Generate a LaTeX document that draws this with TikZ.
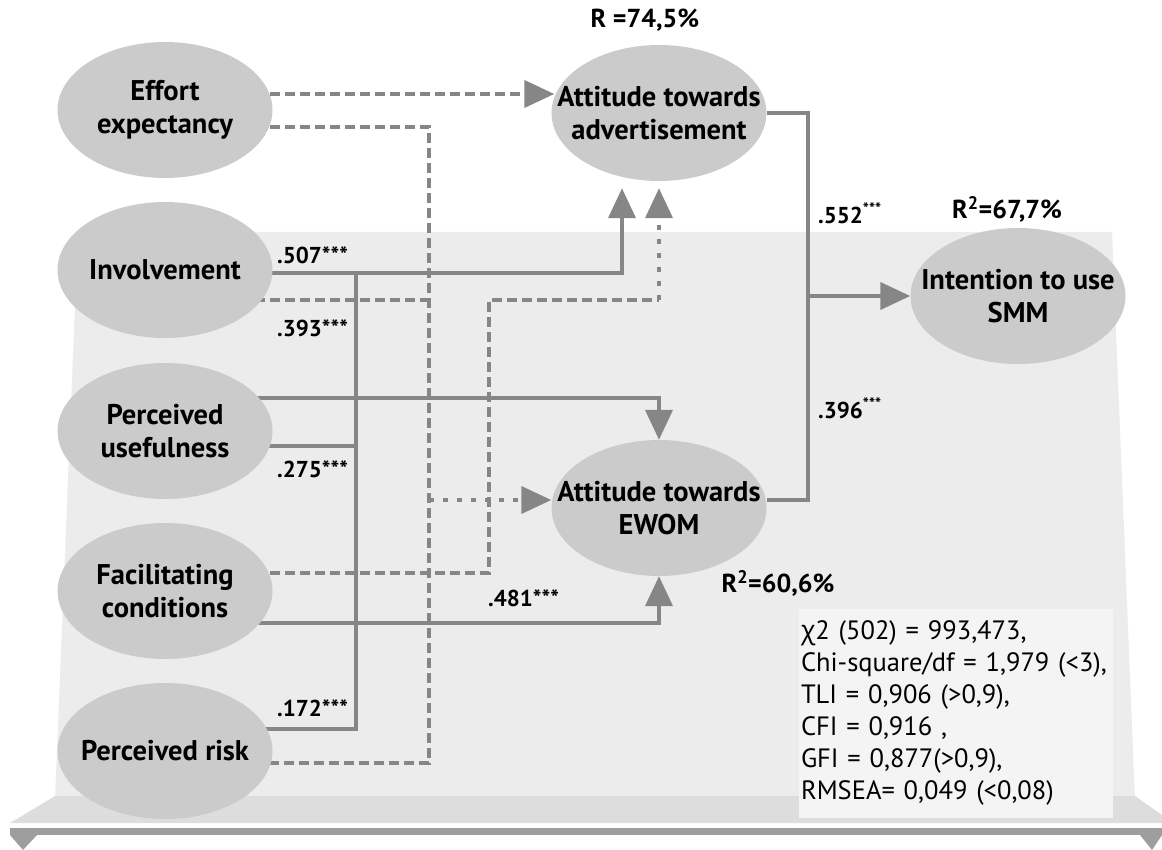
\documentclass[tikz,border=0pt]{standalone}
\usepackage{fontspec}
\setmainfont{PT Sans}
\newfontfamily\greekfont{Open Sans}
\usetikzlibrary{shapes.geometric,arrows.meta}

\definecolor{ovalgray}{HTML}{CBCBCB}
\definecolor{linegray}{HTML}{868686}
\definecolor{panelgray}{HTML}{EBECEB}
\definecolor{shelfgray}{HTML}{DCDDDC}
\definecolor{bargray}{HTML}{9E9E9E}
\definecolor{boxgray}{HTML}{F4F4F4}

\pgfdeclarelayer{panel}
\pgfdeclarelayer{paths}
\pgfsetlayers{panel,paths,main}

\tikzset{construct/.style={ellipse,fill=ovalgray,minimum width=215pt,minimum height=136pt,inner xsep=-60pt,inner ysep=-20pt,align=center,font=\fontsize{28.5}{33}\selectfont\bfseries}}
\tikzset{coef/.style={anchor=west,inner sep=0pt,font=\fontsize{23}{26}\selectfont\bfseries}}
\tikzset{rsq/.style={inner sep=0pt,font=\fontsize{26}{28}\selectfont\bfseries}}
\tikzset{sig/.style={draw=linegray,line width=4pt}}
\tikzset{nonsig/.style={draw=linegray,line width=4pt,dash pattern=on 10pt off 5pt}}
\tikzset{dotline/.style={draw=linegray,line width=4pt,dash pattern=on 5pt off 9pt}}
\tikzset{bigtip/.style={-{Triangle[length=30pt,width=27pt]}}}

\begin{document}
\begin{tikzpicture}[x=1pt,y=-1pt]
\useasboundingbox (0,0) rectangle (1162,850);
% backdrop
\begin{pgfonlayer}{panel}
\fill[panelgray] (78,232) -- (1112,232) -- (1135,800) -- (55,800) -- cycle;
\fill[shelfgray] (55,796) -- (1135,796) -- (1162,815) -- (1162,823) -- (10,823) -- cycle;
\fill[bargray] (10,828) rectangle (1162,835);
\fill[bargray] (10,835) -- (37,835) -- (23,850) -- cycle;
\fill[bargray] (1140,835) -- (1162,835) -- (1152,850) -- cycle;
\end{pgfonlayer}
% vertices
\node[construct] (ee) at (165,110) {Effort\\expectancy};
\node[construct] (inv) at (165,270) {Involvement};
\node[construct] (pu) at (165,431) {Perceived\\usefulness};
\node[construct] (fc) at (165,591) {Facilitating\\conditions};
\node[construct] (pr) at (165,751) {Perceived risk};
\node[construct] (atad) at (659,113) {Attitude towards\\advertisement};
\node[construct] (atew) at (659,508) {Attitude towards\\EWOM};
\node[construct] (int) at (1018,296) {Intention to use\\SMM};
% junctions
\coordinate (jinv) at (356,273);
\coordinate (jnon) at (429,500);
\coordinate (jfc) at (489,300);
\coordinate (jad) at (659,300);
\coordinate (jout) at (808,296);
%edges
\begin{pgfonlayer}{paths}
\draw[nonsig,bigtip] ([yshift=16pt]ee.center) -- ([xshift=3pt,yshift=19pt]atad.west);
\draw[nonsig] ([yshift=-17pt]ee.center) -| (jnon) |- ([yshift=-12pt]pr.center);
\draw[nonsig] ([yshift=-30pt]inv.center) -- ([yshift=-30pt]inv.center -| jnon);
\draw[nonsig] ([yshift=18pt]fc.center) -| (jfc) -- (jad);
\draw[dotline,bigtip] (jad) -- ([yshift=-7pt]atad.south);
\draw[dotline,bigtip] (jnon) -- ([yshift=8pt]atew.west);
\draw[sig,bigtip] ([yshift=-3pt]inv.center) -| ([xshift=-37pt,yshift=-7pt]atad.south);
\draw[sig] ([yshift=22pt]pr.center) -| (jinv);
\draw[sig] ([yshift=-15pt]pu.center) -- ([yshift=-15pt]pu.center -| jinv);
\draw[sig,bigtip] ([yshift=33pt]pu.center) -| (atew.north);
\draw[sig,bigtip] ([yshift=-32pt]fc.center) -| (atew.south);
\draw[sig] (atad.east) -| (jout) |- ([yshift=8pt]atew.east);
\draw[sig,bigtip] (jout) -- (int.west);
\end{pgfonlayer}
% labels
\node[coef] (c507) at (277,255) {.507***};
\node[coef] (c393) at (277,328) {.393***};
\node[coef] (c275) at (277,469) {.275***};
\node[coef] (c172) at (277,708) {.172***};
\node[coef] (c481) at (488,598) {.481***};
\node[coef] (c552) at (818,213) {.552\textsuperscript{***}};
\node[coef] (c396) at (818,408) {.396\textsuperscript{***}};
\node[rsq] (rad) at (645,20) {R =74,5\%};
\node[rsq] (rint) at (1007,209) {R\textsuperscript{2}=67,7\%};
\node[rsq] (rew) at (778,583) {R\textsuperscript{2}=60,6\%};
% fit indices
\node[fill=boxgray,minimum width=314pt,minimum height=209pt,text width=310pt,inner xsep=2pt,align=left,font=\fontsize{26.5}{32}\selectfont] (fit) at (956,713)
{{\greekfont χ}2 (502) = 993,473,\\Chi-square/df = 1,979 (<3),\\TLI = 0,906 (>0,9),\\CFI = 0,916 ,\\GFI = 0,877(>0,9),\\RMSEA= 0,049 (<0,08)};
\end{tikzpicture}
\end{document}
